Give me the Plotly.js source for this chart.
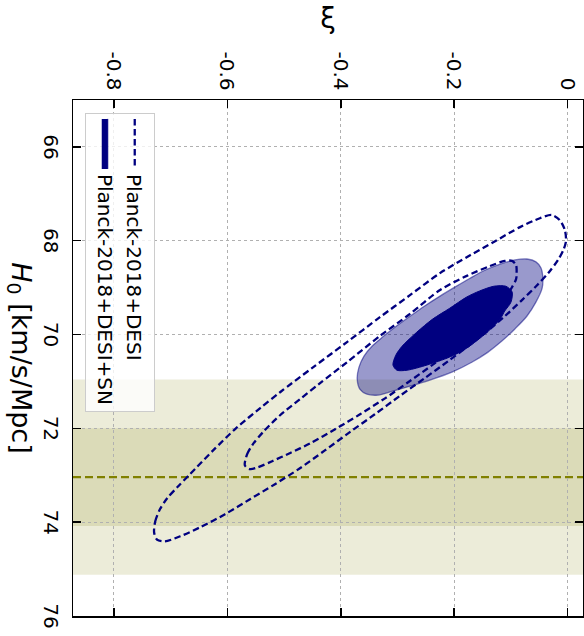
<!DOCTYPE html>
<html><head><meta charset="utf-8">
<script src="https://cdn.plot.ly/plotly-3.0.1.min.js"></script>
<style>
html,body{margin:0;padding:0;background:#fff;overflow:hidden;width:584px;height:636px;}
#wrap{position:absolute;left:0;top:0;width:636px;height:584px;transform-origin:0 0;transform:translate(584px,0) rotate(90deg);}
#plot{width:636px;height:584px;}
</style></head><body><div id="wrap"><div id="plot"></div></div>
<script>
// Planck-2018+DESI, 95% contour (H0, xi)
const pd95_H0 = [74.22,73.98,73.73,73.49,73.24,72.98,72.47,71.98,71.57,71.23,70.70,70.16,69.63,69.16,68.69,68.31,68.01,67.71,67.52,67.45,67.56,67.77,68.01,68.18,68.41,68.67,68.95,69.27,69.61,69.93,70.25,70.57,70.93,71.31,71.70,72.08,72.47,72.85,73.19,73.51,73.83,74.11,74.30,74.41,74.37,74.22];
const pd95_xi = [-0.729,-0.727,-0.719,-0.706,-0.687,-0.666,-0.625,-0.583,-0.542,-0.507,-0.449,-0.389,-0.331,-0.278,-0.225,-0.172,-0.128,-0.084,-0.049,-0.028,-0.014,-0.005,-0.003,-0.007,-0.017,-0.033,-0.054,-0.081,-0.111,-0.142,-0.176,-0.211,-0.252,-0.296,-0.340,-0.384,-0.428,-0.472,-0.516,-0.560,-0.604,-0.648,-0.683,-0.710,-0.724,-0.729];
// Planck-2018+DESI, 68% contour
const pd68_H0 = [72.79,72.55,72.34,72.08,71.72,71.38,71.04,70.59,70.03,69.56,69.05,68.75,68.54,68.43,68.43,68.52,68.67,68.82,69.03,69.27,69.52,69.78,70.03,70.31,70.61,70.99,71.36,71.70,72.02,72.32,72.53,72.70,72.83,72.87,72.79];
const pd68_xi = [-0.569,-0.565,-0.555,-0.537,-0.507,-0.472,-0.437,-0.389,-0.331,-0.278,-0.225,-0.178,-0.137,-0.111,-0.098,-0.091,-0.090,-0.091,-0.100,-0.112,-0.128,-0.148,-0.172,-0.201,-0.234,-0.278,-0.322,-0.366,-0.410,-0.454,-0.490,-0.521,-0.546,-0.560,-0.569];
// Planck-2018+DESI+SN, 95% contour
const pds95_H0 = [70.95,70.70,70.46,70.25,70.06,69.84,69.61,69.39,69.18,68.99,68.80,68.63,68.50,68.41,68.39,68.45,68.58,68.75,69.01,69.31,69.61,69.88,70.14,70.38,70.59,70.80,70.97,71.10,71.21,71.29,71.27,71.17,70.95];
const pds95_xi = [-0.371,-0.368,-0.359,-0.345,-0.327,-0.304,-0.278,-0.252,-0.225,-0.199,-0.172,-0.146,-0.119,-0.093,-0.072,-0.056,-0.047,-0.044,-0.045,-0.056,-0.072,-0.093,-0.116,-0.141,-0.169,-0.204,-0.243,-0.278,-0.310,-0.334,-0.354,-0.366,-0.371];
// Planck-2018+DESI+SN, 68% contour
const pds68_H0 = [70.65,70.44,70.25,69.95,69.67,69.44,69.20,69.07,68.97,68.97,69.09,69.31,69.50,69.67,69.95,70.29,70.48,70.65,70.76,70.76,70.65];
const pds68_xi = [-0.308,-0.303,-0.292,-0.266,-0.238,-0.208,-0.178,-0.155,-0.130,-0.109,-0.098,-0.100,-0.111,-0.119,-0.142,-0.178,-0.208,-0.248,-0.283,-0.301,-0.308];
// SH0ES H0 measurement
const shoesMean = 73.04;
const shoesSigma = 1.04;
// ticks
const h0Ticks = [66,68,70,72,74,76];
const xiTicks = [-0.8,-0.6,-0.4,-0.2,0];
const xiTickText = ['-0.8','-0.6','-0.4','-0.2','0'];
const seriesNames = ['Planck-2018+DESI','Planck-2018+DESI+SN'];

const navy = '#000080';
const font = 'DejaVu Sans, sans-serif';

const traces = [
  {x: pds95_H0, y: pds95_xi, type:'scatter', mode:'lines', fill:'toself',
   fillcolor:'rgba(0,0,128,0.4)', line:{color:'rgba(0,0,128,0.5)', width:1.3, shape:'spline', smoothing:0.8},
   showlegend:false, hoverinfo:'skip'},
  {x: pds68_H0, y: pds68_xi, type:'scatter', mode:'lines', fill:'toself',
   fillcolor:navy, line:{color:navy, width:1, shape:'spline', smoothing:0.8},
   name: seriesNames[1], legendrank:2, showlegend:true, hoverinfo:'skip'},
  {x: pd95_H0, y: pd95_xi, type:'scatter', mode:'lines',
   line:{color:navy, width:2.3, dash:'6.5px,3.5px', shape:'spline', smoothing:0.8},
   name: seriesNames[0], legendrank:1, showlegend:true, hoverinfo:'skip'},
  {x: pd68_H0, y: pd68_xi, type:'scatter', mode:'lines',
   line:{color:navy, width:2.3, dash:'6.5px,3.5px', shape:'spline', smoothing:0.8},
   showlegend:false, hoverinfo:'skip'}
];

const axisCommon = {
  ticks:'inside', ticklen:8, tickwidth:1.5, tickcolor:'#000',
  showline:true, linecolor:'#000', linewidth:1.5, mirror:'ticks',
  showgrid:true, gridcolor:'#b0b0b0', griddash:'dot', gridwidth:1,
  zeroline:false, tickfont:{family:font, size:20, color:'#000'}
};

const layout = {
  width:636, height:584,
  margin:{l:100, r:20, t:1, b:73},
  paper_bgcolor:'#fff', plot_bgcolor:'#fff',
  font:{family:font, color:'#000'},
  xaxis: Object.assign({}, axisCommon, {
    range:[65,76], tickvals:h0Ticks, ticktext:h0Ticks.map(String),
    ticklabelstandoff:4,
    title:{text:'<i>H</i><sub>0</sub> [km/s/Mpc]', font:{family:font, size:27}, standoff:8}
  }),
  yaxis: Object.assign({}, axisCommon, {
    range:[-0.872,0.027], tickvals:xiTicks, ticktext:xiTickText,
    ticklabelstandoff:4,
    title:{text:'ξ', font:{family:font, size:28}, standoff:14}
  }),
  shapes:[
    {type:'rect', xref:'x', yref:'paper', x0:shoesMean-2*shoesSigma, x1:shoesMean+2*shoesSigma, y0:0, y1:1,
     fillcolor:'rgba(128,128,0,0.15)', line:{width:0}, layer:'below'},
    {type:'rect', xref:'x', yref:'paper', x0:shoesMean-shoesSigma, x1:shoesMean+shoesSigma, y0:0, y1:1,
     fillcolor:'rgba(128,128,0,0.15)', line:{width:0}, layer:'below'},
    {type:'line', xref:'x', yref:'paper', x0:shoesMean, x1:shoesMean, y0:0, y1:1,
     line:{color:'#808000', width:2.2, dash:'8px,4px'}, layer:'below'}
  ],
  legend:{x:0.025, y:0.024, xanchor:'left', yanchor:'bottom',
    bgcolor:'rgba(255,255,255,0.8)', bordercolor:'#cccccc', borderwidth:1,
    font:{family:font, size:20, color:'#000'}, itemwidth:50, tracegroupgap:0}
};

Plotly.newPlot('plot', traces, layout, {displayModeBar:false, staticPlot:true});
</script>
</body></html>
